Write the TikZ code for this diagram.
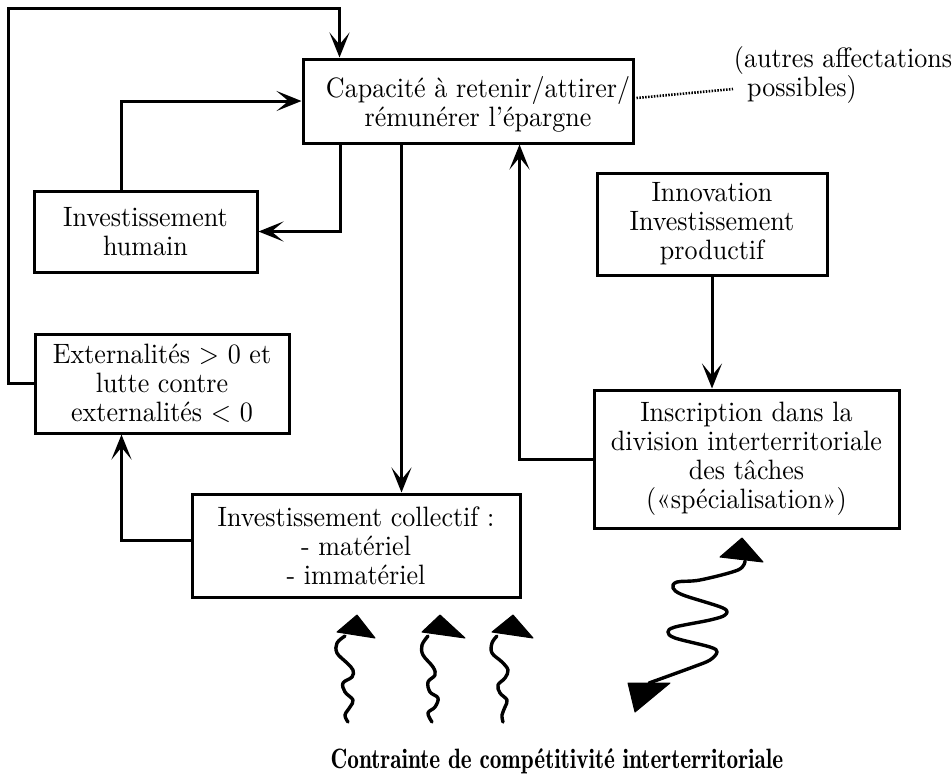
\documentclass[tikz,border=0pt]{standalone}
\usepackage{fontspec}
\setmainfont{lmroman10-regular.otf}[BoldFont=lmromandemi10-regular.otf,FakeStretch=0.93]
\newfontfamily\headlinefont{lmromandemi10-regular.otf}[FakeStretch=0.83]
\usetikzlibrary{arrows.meta,calc}
\begin{document}
\begin{tikzpicture}[x=1pt,y=-1pt,
  box/.style={draw,line width=3pt,align=center,inner sep=0pt,
    font=\fontsize{28}{29}\selectfont},
  conn/.style={line width=3pt,-{Stealth[length=25pt,width=20pt,inset=12pt]}},
  lbl/.style={font=\fontsize{28}{29}\selectfont,inner sep=0pt},
  wave/.style={line width=3.4pt,line cap=round,line join=round},
  head/.style={fill=black,draw=black,line width=1pt,line join=round}]
\useasboundingbox (0,0) rectangle (952,780);

% boxes
\node[box,minimum width=330pt,minimum height=84pt] (capa) at (468,101) {};
\node[lbl,align=center] (capatext) at (478,104)
  {Capacité à retenir/attirer/\\rémunérer l'épargne};
\node[box,minimum width=223pt,minimum height=81pt] (hum) at (145.5,231.5)
  {Investissement\\humain};
\node[box,minimum width=254pt,minimum height=99pt] (ext) at (162,383.5)
  {Externalités > 0 et\\lutte contre\\externalités < 0};
\node[box,minimum width=328pt,minimum height=103pt] (coll) at (356,545.5)
  {Investissement collectif :\\- matériel\\- immatériel};
\node[box,minimum width=230pt,minimum height=102pt] (inno) at (712,224)
  {Innovation\\Investissement\\productif};
\node[box,minimum width=305pt,minimum height=138pt] (insc) at (746.5,459)
  {Inscription dans la\\division interterritoriale\\des tâches\\(«spécialisation»)};

% side note and title
\node[lbl] (aff1) at (843,60) {(autres affectations};
\node[lbl] (aff2) at (802,89) {possibles)};
\node[lbl,anchor=base,font=\fontsize{28}{30}\headlinefont] (title) at (557,768)
  {Contrainte de compétitivité interterritoriale};

% connector anchor points
\coordinate (tl) at (8,8);
\coordinate (topin) at ($(capa.north west)+(38,0)$);
\coordinate (humout) at ($(hum.north west)+(89,0)$);
\coordinate (capout1) at ($(capa.south west)+(39,0)$);
\coordinate (capout2) at ($(capa.south west)+(100,0)$);
\coordinate (capin) at ($(capa.south west)+(218,0)$);
\coordinate (collout) at ($(coll.west)+(0,-5)$);
\coordinate (extin) at ($(ext.south west)+(88,0)$);
\coordinate (dotstart) at ($(capa.east)+(2,-3)$);
\coordinate (dotend) at ($(aff2.west)+(-14,0)$);

% connectors
\draw[conn] (ext.west) -| (tl) -| (topin);
\draw[conn] (humout) |- (capa.west);
\draw[conn] (capout1) |- (hum.east);
\draw[conn] (capout2) -- (capout2 |- coll.north);
\draw[conn] (collout) -| (extin);
\draw[conn] (insc.west) -| (capin);
\draw[conn] (inno.south) -- (inno.south |- insc.north);
\draw[line width=2.6pt,dash pattern=on 1.5pt off 1.4pt] (dotstart) -- (dotend);

% wavy pressure arrows
\draw[wave] plot[smooth,tension=0.6] coordinates
  {(348,722) (345,715) (350,707) (353,700) (345,692) (343,683) (352,677)
   (353,670) (347,663) (337,653) (337,643) (345,636)};
\draw[head] (357,615) -- (337,632) -- (375,638) -- cycle;
\draw[wave] plot[smooth,tension=0.6] coordinates
  {(432,722) (428,713) (435,707) (438,698) (430,692) (428,682) (435,675)
   (433,667) (423,655) (422,645) (428,636)};
\draw[head] (440,615) -- (422,632) -- (465,638) -- cycle;
\draw[wave] plot[smooth,tension=0.6] coordinates
  {(503,722) (502,715) (505,707) (507,700) (500,693) (498,685) (505,678)
   (508,670) (502,662) (492,653) (492,643) (497,636)};
\draw[head] (513,615) -- (492,632) -- (533,638) -- cycle;

% two-headed zigzag
\draw[wave] plot[smooth,tension=0.55] coordinates
  {(745,561) (738,570) (700,580) (677,582) (673,588) (683,595) (723,608)
   (725,615) (710,620) (675,627) (668,632) (675,638) (710,647) (717,652)
   (710,660) (693,667) (649,683)};
\draw[head] (742,538) -- (720,557) -- (763,562) -- cycle;
\draw[head] (628,683) -- (670,683) -- (635,712) -- cycle;
\end{tikzpicture}
\end{document}
